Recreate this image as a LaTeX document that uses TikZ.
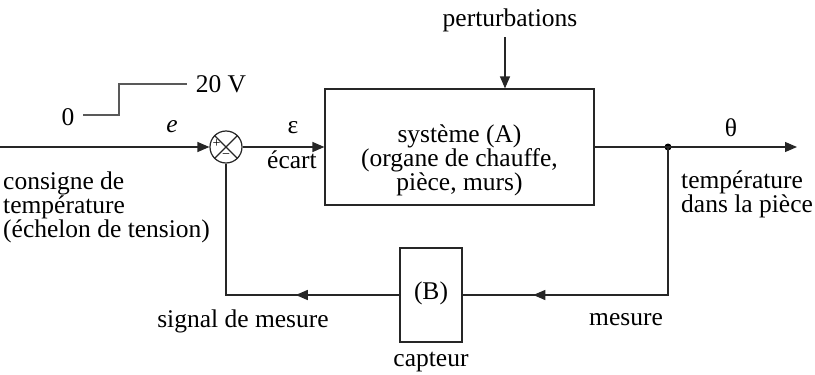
\documentclass[tikz,border=0pt]{standalone}
\usepackage{fontspec}
\setmainfont{Liberation Serif}
\usetikzlibrary{arrows.meta,decorations.markings}
\begin{document}
\begin{tikzpicture}[x=1pt,y=-1pt,
  font=\fontsize{25.5}{24}\selectfont,
  line/.style={draw=black!85,line width=1.2pt},
  tip/.style={-{Triangle[length=12pt,width=10pt]}},
  blk/.style={line,rectangle,inner sep=0pt},
  sumnode/.style={line,circle,minimum size=32pt,inner sep=0pt},
  midarrow/.style={postaction={decorate},decoration={markings,
     mark=at position #1 with {\arrow{Triangle[length=12pt,width=10pt]}}}},
  lbl/.style={inner sep=0pt}]
\useasboundingbox (0,0) rectangle (815,375);
% blocks
\node[sumnode] (s) at (226,147) {};
\draw[line] (s.north west) -- (s.south east) (s.north east) -- (s.south west);
\node[lbl,font=\fontsize{14}{14}\selectfont] (plus) at (216.5,144) {+};
\node[lbl,font=\fontsize{14}{14}\selectfont] (minus) at (226,156) {−};
\node[blk,minimum width=269pt,minimum height=116pt] (A) at (459.5,147) {};
\node[lbl,align=center] (Atxt) at (459.5,160) {système (A)\\(organe de chauffe,\\pièce, murs)};
\node[blk,minimum width=62pt,minimum height=94pt] (B) at (431,295) {};
\node[lbl] (Btxt) at (431,293) {(B)};
\fill[black] (668,147) circle (3.5pt) coordinate (d);
\coordinate (in) at (0,147);
\coordinate (out) at (797,147);
\coordinate (pt) at (505,37);
\coordinate (c1) at (668,295);
\coordinate (c2) at (226,295);
% connectors
\draw[line,tip] (in) -- (s.west);
\draw[line,tip] (s.east) -- (A.west);
\draw[line,tip] (pt) -- (pt |- A.north);
\draw[line,tip] (A.east) -- (out);
\draw[line,midarrow=0.80] (d) -- (c1) -- (B.east);
\draw[line,midarrow=0.34] (B.west) -- (c2) -- (s.south);
% step
\coordinate (st0) at (83,115);
\coordinate (st1) at (119,115);
\coordinate (st2) at (119,84);
\coordinate (st3) at (187,84);
\draw[line,black!65] (st0) -- (st1) -- (st2) -- (st3);
\node[lbl] (zero) at (68,117) {0};
\node[lbl] (twenty) at (221,84) {20 V};
% labels
\node[lbl] (pert) at (510,20) {perturbations};
\node[lbl] (e) at (172,127) {\itshape e};
\node[lbl] (eps) at (293,128) {ε};
\node[lbl] (ecart) at (292,160) {écart};
\node[lbl] (theta) at (731,128) {θ};
\node[lbl,anchor=west,align=left] (cons) at (3,207) {consigne de\\température\\(échelon de tension)};
\node[lbl,anchor=west,align=left] (temp) at (681,194) {température\\dans la pièce};
\node[lbl] (sig) at (243,321) {signal de mesure};
\node[lbl] (mes) at (626,320) {mesure};
\node[lbl] (capt) at (431,362) {capteur};
\end{tikzpicture}
\end{document}
